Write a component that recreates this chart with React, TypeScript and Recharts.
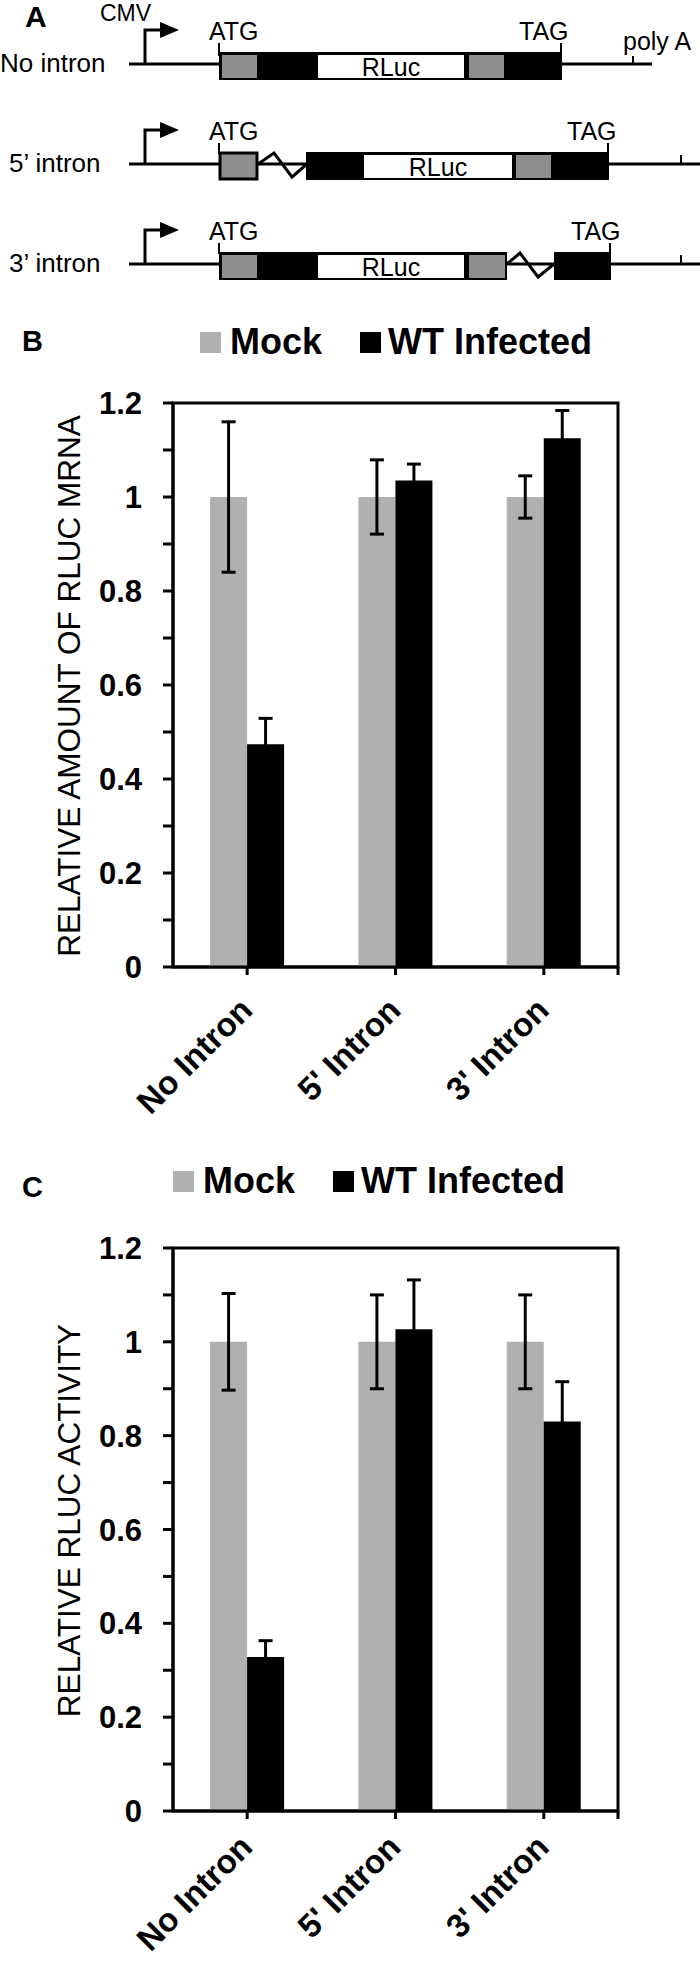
import React from "react";
import { BarChart, Bar, XAxis, YAxis, ErrorBar, Legend, ReferenceArea, ReferenceLine, Label } from "recharts";

// categories and values
const categories = ["No Intron", "5' Intron", "3' Intron"];
const seriesNames = ["Mock", "WT Infected"];
const mrnaMock = [1, 1, 1];
const mrnaMockErr = [0.16, 0.079, 0.045];
const mrnaInfected = [0.474, 1.035, 1.125];
const mrnaInfectedErr = [0.055, 0.035, 0.059];
const activityMock = [1, 1, 1];
const activityMockErr = [0.103, 0.1, 0.1];
const activityInfected = [0.328, 1.027, 0.83];
const activityInfectedErr = [0.035, 0.105, 0.085];
const yTicks = [0, 0.1, 0.2, 0.3, 0.4, 0.5, 0.6, 0.7, 0.8, 0.9, 1, 1.1, 1.2];

const FONT = "'Liberation Sans', Arial, sans-serif";
const MOCK_GRAY = "#b0b0b0";
const BOX_GRAY = "#8e8e8e";

const buildRows = (mock: number[], mockErr: number[], wt: number[], wtErr: number[]) =>
  categories.map((name, i) => ({
    name,
    mock: mock[i],
    mockErr: mockErr[i],
    wt: wt[i],
    wtErr: wtErr[i],
  }));

const mrnaRows = buildRows(mrnaMock, mrnaMockErr, mrnaInfected, mrnaInfectedErr);
const activityRows = buildRows(activityMock, activityMockErr, activityInfected, activityInfectedErr);

const YTick = ({ x, y, payload }: any) => {
  const v = payload.value;
  if (Math.round(v * 10) % 2 !== 0) return <g />;
  return (
    <text x={x} y={y} dy={11} textAnchor="end" fontFamily={FONT} fontWeight="bold" fontSize={31} fill="#000">
      {String(Math.round(v * 10) / 10)}
    </text>
  );
};

const XTick = ({ x, y, payload, labelDy }: any) => (
  <text
    transform={`translate(${x + 7},${y + labelDy}) rotate(-45)`}
    textAnchor="end"
    fontFamily={FONT}
    fontWeight="bold"
    fontSize={33}
    fill="#000"
  >
    {payload.value}
  </text>
);

const LegendBox = ({ payload }: any) => (
  <div style={{ display: "flex", alignItems: "center", fontFamily: FONT, fontWeight: "bold", fontSize: 36, lineHeight: 1, whiteSpace: "nowrap" }}>
    {(payload || []).map((p: any, i: number) => (
      <div key={i} style={{ display: "flex", alignItems: "center", marginRight: i === 0 ? 38 : 0 }}>
        <div style={{ width: 21, height: 21, background: p.color, marginRight: i === 0 ? 9 : 7 }} />
        <span>{p.value}</span>
      </div>
    ))}
  </div>
);

type PanelProps = {
  rows: any[];
  yLabel: string;
  height: number;
  marginBottom: number;
  legendTop: number;
  legendLeft: number;
  labelShift: number;
  labelDy: number;
};

const Panel = ({ rows, yLabel, height, marginBottom, legendTop, legendLeft, labelShift, labelDy }: PanelProps) => (
  <BarChart
    width={700}
    height={height}
    data={rows}
    margin={{ top: 103, right: 82, bottom: marginBottom, left: 0 }}
    barCategoryGap="25%"
    barGap={0}
  >
    <XAxis
      dataKey="name"
      height={60}
      interval={0}
      tickSize={8}
      tickMargin={0}
      tick={<XTick labelDy={labelDy} />}
      axisLine={{ stroke: "#000", strokeWidth: 3 }}
      tickLine={{ stroke: "#000", strokeWidth: 3 }}
    />
    <YAxis
      width={173}
      domain={[0, 1.2]}
      ticks={yTicks}
      interval={0}
      tickSize={10}
      tickMargin={21}
      tick={<YTick />}
      axisLine={{ stroke: "#000", strokeWidth: 3 }}
      tickLine={{ stroke: "#000", strokeWidth: 3 }}
    >
      <Label
        content={({ viewBox }: any) => {
          const cx = viewBox.x + 80;
          const cy = viewBox.y + viewBox.height / 2 + labelShift;
          return (
            <text x={cx} y={cy} transform={`rotate(-90, ${cx}, ${cy})`} textAnchor="middle" fontFamily={FONT} fontSize={31.5} fill="#000">
              {yLabel}
            </text>
          );
        }}
      />
    </YAxis>
    <Legend
      layout="horizontal"
      verticalAlign="middle"
      align="center"
      wrapperStyle={{ top: legendTop, left: legendLeft, width: "auto" }}
      content={<LegendBox />}
    />
    <ReferenceArea y1={0} y2={1.2} fill="none" stroke="#000" strokeWidth={3} ifOverflow="visible" />
    {/* closing tick at the right end of the category axis */}
    <ReferenceLine
      position="end"
      ifOverflow="visible"
      segment={[
        { x: categories[categories.length - 1], y: 0 },
        { x: categories[categories.length - 1], y: -0.017 },
      ]}
      stroke="#000"
      strokeWidth={3}
    />
    <Bar dataKey="mock" name={seriesNames[0]} fill={MOCK_GRAY} isAnimationActive={false}>
      <ErrorBar dataKey="mockErr" width={7} strokeWidth={3} stroke="#000" direction="y" isAnimationActive={false} />
    </Bar>
    <Bar dataKey="wt" name={seriesNames[1]} fill="#000" isAnimationActive={false}>
      <ErrorBar dataKey="wtErr" width={7} strokeWidth={3} stroke="#000" direction="y" isAnimationActive={false} />
    </Bar>
  </BarChart>
);

// construct schematic (panel A)
const Promoter = ({ dy }: { dy: number }) => (
  <g>
    <polyline points={`145,${64 + dy} 145,${30 + dy} 162,${30 + dy}`} fill="none" stroke="#000" strokeWidth={3} />
    <polygon points={`160,${22 + dy} 179,${30 + dy} 160,${38 + dy}`} fill="#000" />
  </g>
);

const txt = { fontFamily: FONT, fontSize: 25, fill: "#000" } as const;

const Schematic = () => (
  <g>
    <text x={25} y={27} fontFamily={FONT} fontWeight="bold" fontSize={30}>A</text>
    <text x={100} y={21} {...txt} fontSize={23}>CMV</text>

    {/* No intron */}
    <text x={0} y={72} {...txt} fontSize={26}>No intron</text>
    <line x1={129} y1={64} x2={652} y2={64} stroke="#000" strokeWidth={3} />
    <Promoter dy={0} />
    <text x={209} y={40} {...txt}>ATG</text>
    <line x1={219} y1={43} x2={219} y2={56} stroke="#000" strokeWidth={2} />
    <rect x={219} y={52} width={343} height={28} fill="#000" />
    <rect x={222} y={55} width={35} height={23} fill={BOX_GRAY} />
    <rect x={318} y={55} width={146} height={23} fill="#fff" />
    <rect x={469} y={55} width={35} height={23} fill={BOX_GRAY} />
    <text x={391} y={76} {...txt} textAnchor="middle">RLuc</text>
    <text x={519} y={40} {...txt}>TAG</text>
    <line x1={561} y1={43} x2={561} y2={56} stroke="#000" strokeWidth={2} />
    <text x={623} y={50} {...txt}>poly A</text>
    <line x1={633} y1={56} x2={633} y2={64} stroke="#000" strokeWidth={2} />

    {/* 5' intron */}
    <text x={9} y={172} {...txt} fontSize={26}>5’ intron</text>
    <line x1={129} y1={164} x2={700} y2={164} stroke="#000" strokeWidth={3} />
    <Promoter dy={100} />
    <text x={209} y={140} {...txt}>ATG</text>
    <line x1={219} y1={143} x2={219} y2={154} stroke="#000" strokeWidth={2} />
    <rect x={220} y={153} width={37} height={26} fill={BOX_GRAY} stroke="#000" strokeWidth={3} />
    <polyline points="258,164 274,153 292,177 307,164" fill="none" stroke="#000" strokeWidth={3} />
    <rect x={306} y={152} width={303} height={28} fill="#000" />
    <rect x={364} y={155} width={148} height={23} fill="#fff" />
    <rect x={516} y={155} width={35} height={23} fill={BOX_GRAY} />
    <text x={438} y={176} {...txt} textAnchor="middle">RLuc</text>
    <text x={567} y={140} {...txt}>TAG</text>
    <line x1={608} y1={143} x2={608} y2={154} stroke="#000" strokeWidth={2} />
    <line x1={681} y1={155} x2={681} y2={164} stroke="#000" strokeWidth={2} />

    {/* 3' intron */}
    <text x={9} y={272} {...txt} fontSize={26}>3’ intron</text>
    <line x1={129} y1={264} x2={700} y2={264} stroke="#000" strokeWidth={3} />
    <Promoter dy={200} />
    <text x={209} y={240} {...txt}>ATG</text>
    <line x1={219} y1={243} x2={219} y2={254} stroke="#000" strokeWidth={2} />
    <rect x={219} y={252} width={288} height={28} fill="#000" />
    <rect x={222} y={255} width={35} height={23} fill={BOX_GRAY} />
    <rect x={318} y={255} width={146} height={23} fill="#fff" />
    <rect x={469} y={255} width={36} height={23} fill={BOX_GRAY} />
    <text x={391} y={276} {...txt} textAnchor="middle">RLuc</text>
    <polyline points="507,264 520,253 538,277 554,264" fill="none" stroke="#000" strokeWidth={3} />
    <rect x={554} y={252} width={57} height={28} fill="#000" />
    <text x={571} y={240} {...txt}>TAG</text>
    <line x1={610} y1={243} x2={610} y2={254} stroke="#000" strokeWidth={2} />
    <line x1={681} y1={255} x2={681} y2={264} stroke="#000" strokeWidth={2} />
  </g>
);

export default function App() {
  return (
    <div style={{ position: "absolute", left: 0, top: 0, width: 700, height: 1962, background: "#fff", overflow: "hidden" }}>
      <div style={{ position: "absolute", left: 0, top: 300 }}>
        <Panel rows={mrnaRows} yLabel="RELATIVE AMOUNT OF RLUC MRNA" height={840} marginBottom={113} legendTop={24} legendLeft={200} labelShift={1} labelDy={37} />
      </div>
      <div style={{ position: "absolute", left: 0, top: 1145 }}>
        <Panel rows={activityRows} yLabel="RELATIVE RLUC ACTIVITY" height={817} marginBottom={91} legendTop={18} legendLeft={173} labelShift={-9} labelDy={30} />
      </div>
      <svg width={700} height={1962} style={{ position: "absolute", left: 0, top: 0, pointerEvents: "none" }}>
        <Schematic />
        <text x={22} y={351} fontFamily={FONT} fontWeight="bold" fontSize={29}>B</text>
        <text x={22} y={1197} fontFamily={FONT} fontWeight="bold" fontSize={29}>C</text>
      </svg>
    </div>
  );
}
